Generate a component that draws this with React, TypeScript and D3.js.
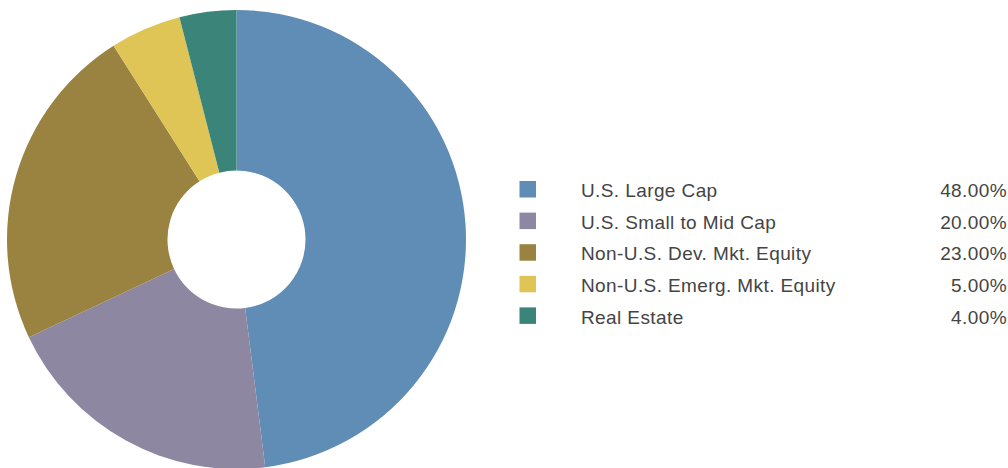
import React from "react";
import * as d3 from "d3";

const categories = [
  "U.S. Large Cap",
  "U.S. Small to Mid Cap",
  "Non-U.S. Dev. Mkt. Equity",
  "Non-U.S. Emerg. Mkt. Equity",
  "Real Estate",
];
const values = [48, 20, 23, 5, 4];
const colors = ["#5f8db5", "#8e87a2", "#9a8240", "#dfc555", "#3a8479"];

const W = 1008;
const H = 468;

export default function App() {
  const cx = 236.5;
  const cy = 239.5;
  const outerR = 229.5;
  const innerR = 69;
  const pie = d3.pie<number>().sort(null).value((d) => d)(values);
  const arc = d3.arc<d3.PieArcDatum<number>>().innerRadius(innerR).outerRadius(outerR);
  const rowY = d3.scaleLinear().domain([0, 1]).range([189, 220.6]);
  const fmt = d3.format(".2f");
  return (
    <svg
      width={W}
      height={H}
      style={{ position: "absolute", left: 0, top: 0, display: "block", background: "#fff" }}
    >
      <g transform={`translate(${cx},${cy})`}>
        {pie.map((p, i) => (
          <path key={i} d={arc(p) || ""} fill={colors[i]} />
        ))}
      </g>
      <g fontFamily="'Liberation Sans', Arial, sans-serif" fontSize={19} fill="#444">
        {categories.map((c, i) => (
          <g key={c} transform={`translate(0,${rowY(i)})`}>
            <rect x={519.5} y={-8} width={16.5} height={16.5} fill={colors[i]} />
            <text x={581} y={0} dy="0.43em" letterSpacing={0.4}>
              {c}
            </text>
            <text x={1007} y={0} dy="0.43em" textAnchor="end" letterSpacing={0.4}>
              {fmt(values[i])}%
            </text>
          </g>
        ))}
      </g>
    </svg>
  );
}
